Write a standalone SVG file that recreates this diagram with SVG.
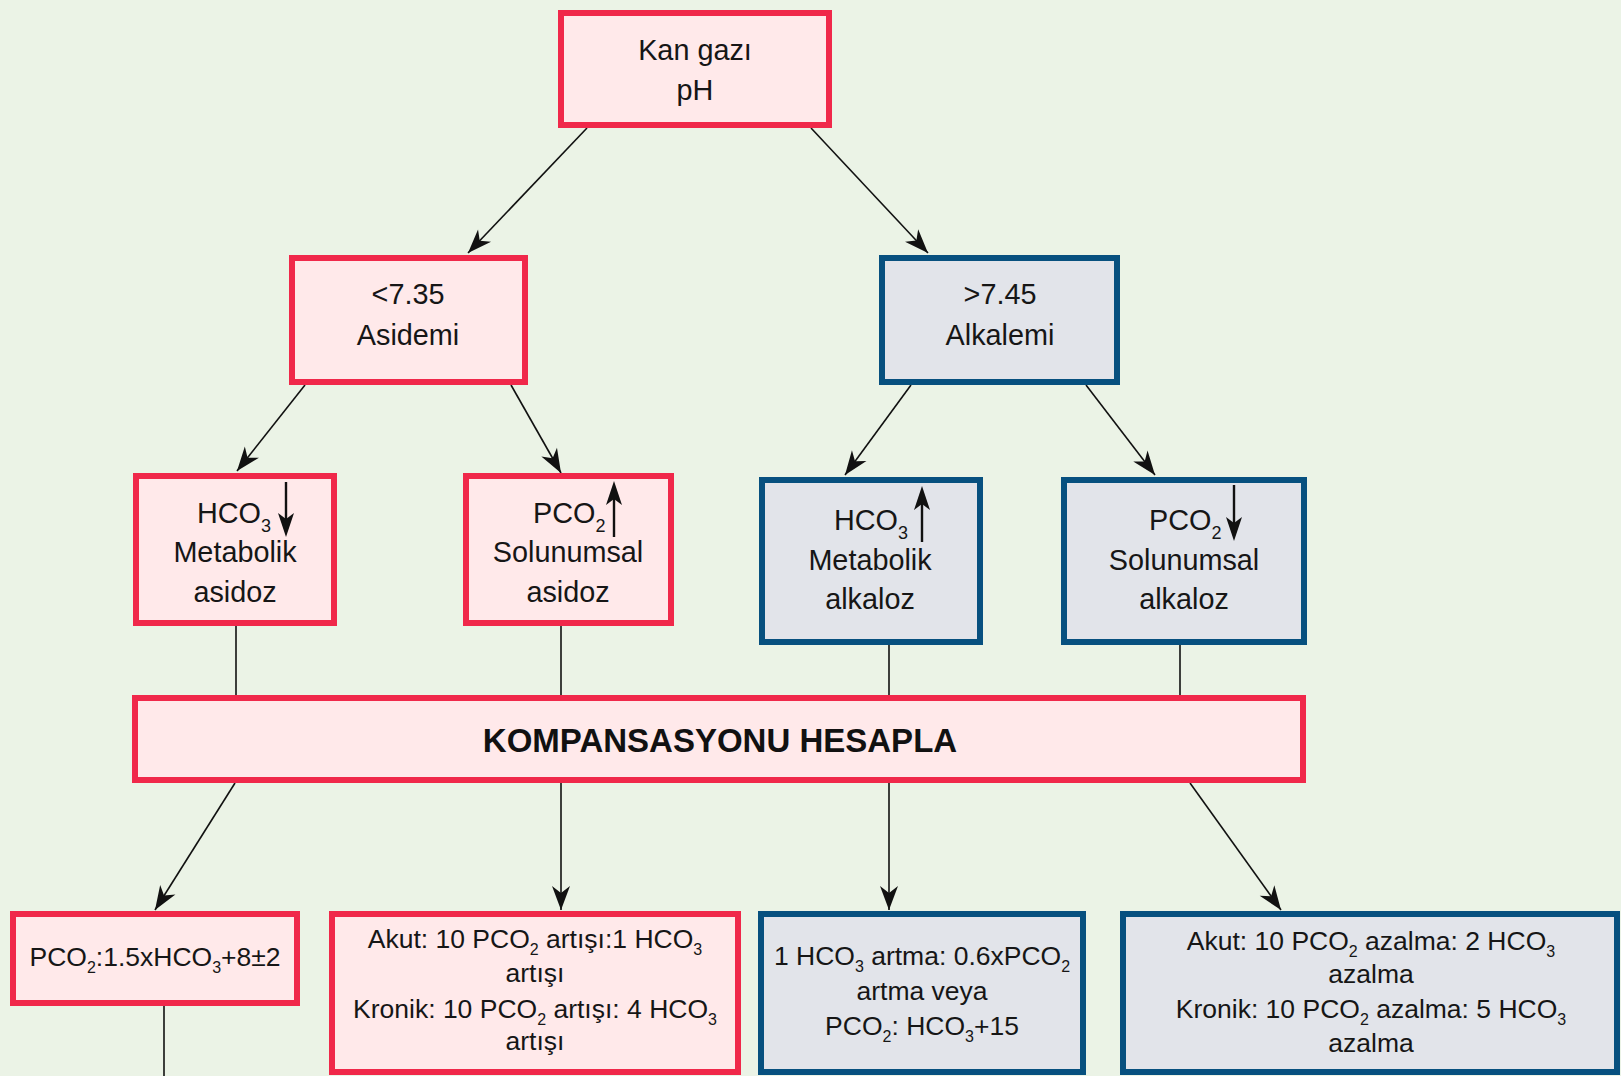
<svg xmlns="http://www.w3.org/2000/svg" width="1621" height="1076" viewBox="0 0 1621 1076">
<defs>
<style>
.red{fill:#FFE9EA;stroke:#F0284A;stroke-width:6}
.blue{fill:#E2E4EA;stroke:#07507F;stroke-width:6}
.t{font-family:"Liberation Sans",Arial,sans-serif;font-size:28.8px;fill:#161616}
.s{font-family:"Liberation Sans",Arial,sans-serif;font-size:26.5px;fill:#161616}
.b{font-family:"Liberation Sans",Arial,sans-serif;font-size:33px;font-weight:bold;fill:#111}
.c{stroke:#111;stroke-width:1.6;fill:none}
.a{stroke:#111;stroke-width:2.4;fill:none}
.h{fill:#111;stroke:none}
</style>
<marker id="arr" viewBox="-26 -11 28 22" refX="0" refY="0" markerWidth="28" markerHeight="22" markerUnits="userSpaceOnUse" orient="auto">
<path d="M0,0 L-24,-9 L-17,0 L-24,9 Z" fill="#111"/>
</marker>
</defs>
<rect x="0" y="0" width="1621" height="1076" fill="#EBF3E6"/>

<g id="connectors">
<line class="c" x1="587" y1="128" x2="468" y2="253" marker-end="url(#arr)"/>
<line class="c" x1="811" y1="128" x2="928" y2="253" marker-end="url(#arr)"/>
<line class="c" x1="305" y1="385" x2="237" y2="471" marker-end="url(#arr)"/>
<line class="c" x1="511" y1="385" x2="561" y2="473" marker-end="url(#arr)"/>
<line class="c" x1="911" y1="385" x2="845" y2="475" marker-end="url(#arr)"/>
<line class="c" x1="1086" y1="385" x2="1155" y2="475" marker-end="url(#arr)"/>
<line class="c" x1="236" y1="626" x2="236" y2="695"/>
<line class="c" x1="561" y1="626" x2="561" y2="695"/>
<line class="c" x1="889" y1="645" x2="889" y2="695"/>
<line class="c" x1="1180" y1="645" x2="1180" y2="695"/>
<line class="c" x1="235" y1="783" x2="155" y2="910" marker-end="url(#arr)"/>
<line class="c" x1="561" y1="783" x2="561" y2="910" marker-end="url(#arr)"/>
<line class="c" x1="889" y1="783" x2="889" y2="910" marker-end="url(#arr)"/>
<line class="c" x1="1190" y1="783" x2="1281" y2="910" marker-end="url(#arr)"/>
<line class="c" x1="164" y1="1006" x2="164" y2="1076"/>
</g>

<g id="kan-gazi">
<rect class="red" x="561" y="13" width="268" height="112"/>
<text class="t" x="695" y="60" text-anchor="middle">Kan gazı</text>
<text class="t" x="695" y="100" text-anchor="middle">pH</text>
</g>

<g id="asidemi">
<rect class="red" x="292" y="258" width="233" height="124"/>
<text class="t" x="408" y="304" text-anchor="middle">&lt;7.35</text>
<text class="t" x="408" y="345" text-anchor="middle">Asidemi</text>
</g>

<g id="alkalemi">
<rect class="blue" x="882" y="258" width="235" height="124"/>
<text class="t" x="1000" y="304" text-anchor="middle">&gt;7.45</text>
<text class="t" x="1000" y="345" text-anchor="middle">Alkalemi</text>
</g>

<g id="metabolik-asidoz">
<rect class="red" x="136" y="476" width="198" height="147"/>
<text class="t" x="197" y="523">HCO<tspan font-size="18" dy="9">3</tspan></text>
<line class="a" x1="286" y1="482" x2="286" y2="520"/>
<path class="h" d="M286,537 L278,513 L286,519 L294,513 Z"/>
<text class="t" x="235" y="562" text-anchor="middle">Metabolik</text>
<text class="t" x="235" y="602" text-anchor="middle">asidoz</text>
</g>

<g id="solunumsal-asidoz">
<rect class="red" x="466" y="476" width="205" height="147"/>
<text class="t" x="533" y="523">PCO<tspan font-size="18" dy="9">2</tspan></text>
<line class="a" x1="614" y1="537" x2="614" y2="499"/>
<path class="h" d="M614,481 L606,505 L614,499 L622,505 Z"/>
<text class="t" x="568" y="562" text-anchor="middle">Solunumsal</text>
<text class="t" x="568" y="602" text-anchor="middle">asidoz</text>
</g>

<g id="metabolik-alkaloz">
<rect class="blue" x="762" y="480" width="218" height="162"/>
<text class="t" x="834" y="530">HCO<tspan font-size="18" dy="9">3</tspan></text>
<line class="a" x1="922" y1="542" x2="922" y2="504"/>
<path class="h" d="M922,486 L914,510 L922,504 L930,510 Z"/>
<text class="t" x="870" y="570" text-anchor="middle">Metabolik</text>
<text class="t" x="870" y="609" text-anchor="middle">alkaloz</text>
</g>

<g id="solunumsal-alkaloz">
<rect class="blue" x="1064" y="480" width="240" height="162"/>
<text class="t" x="1149" y="530">PCO<tspan font-size="18" dy="9">2</tspan></text>
<line class="a" x1="1234" y1="485" x2="1234" y2="523"/>
<path class="h" d="M1234,541 L1226,517 L1234,523 L1242,517 Z"/>
<text class="t" x="1184" y="570" text-anchor="middle">Solunumsal</text>
<text class="t" x="1184" y="609" text-anchor="middle">alkaloz</text>
</g>

<g id="kompansasyon">
<rect class="red" x="135" y="698" width="1168" height="82"/>
<text class="b" x="720" y="752" text-anchor="middle">KOMPANSASYONU HESAPLA</text>
</g>

<g id="comp-metabolik-asidoz">
<rect class="red" x="13" y="914" width="284" height="89"/>
<text class="s" x="155" y="966" text-anchor="middle">PCO<tspan font-size="16" dy="7">2</tspan><tspan dy="-7">:1.5xHCO</tspan><tspan font-size="16" dy="7">3</tspan><tspan dy="-7">+8±2</tspan></text>
</g>

<g id="comp-solunumsal-asidoz">
<rect class="red" x="332" y="914" width="406" height="158"/>
<text class="s" x="535" y="948" text-anchor="middle">Akut: 10 PCO<tspan font-size="16" dy="7">2</tspan><tspan dy="-7"> artışı:1 HCO</tspan><tspan font-size="16" dy="7">3</tspan></text>
<text class="s" x="535" y="982" text-anchor="middle">artışı</text>
<text class="s" x="535" y="1018" text-anchor="middle">Kronik: 10 PCO<tspan font-size="16" dy="7">2</tspan><tspan dy="-7"> artışı: 4 HCO</tspan><tspan font-size="16" dy="7">3</tspan></text>
<text class="s" x="535" y="1050" text-anchor="middle">artışı</text>
</g>

<g id="comp-metabolik-alkaloz">
<rect class="blue" x="761" y="914" width="322" height="158"/>
<text class="s" x="922" y="965" text-anchor="middle">1 HCO<tspan font-size="16" dy="7">3</tspan><tspan dy="-7"> artma: 0.6xPCO</tspan><tspan font-size="16" dy="7">2</tspan></text>
<text class="s" x="922" y="1000" text-anchor="middle">artma veya</text>
<text class="s" x="922" y="1035" text-anchor="middle">PCO<tspan font-size="16" dy="7">2</tspan><tspan dy="-7">: HCO</tspan><tspan font-size="16" dy="7">3</tspan><tspan dy="-7">+15</tspan></text>
</g>

<g id="comp-solunumsal-alkaloz">
<rect class="blue" x="1123" y="914" width="494" height="158"/>
<text class="s" x="1371" y="950" text-anchor="middle">Akut: 10 PCO<tspan font-size="16" dy="7">2</tspan><tspan dy="-7"> azalma: 2 HCO</tspan><tspan font-size="16" dy="7">3</tspan></text>
<text class="s" x="1371" y="983" text-anchor="middle">azalma</text>
<text class="s" x="1371" y="1018" text-anchor="middle">Kronik: 10 PCO<tspan font-size="16" dy="7">2</tspan><tspan dy="-7"> azalma: 5 HCO</tspan><tspan font-size="16" dy="7">3</tspan></text>
<text class="s" x="1371" y="1052" text-anchor="middle">azalma</text>
</g>
</svg>
